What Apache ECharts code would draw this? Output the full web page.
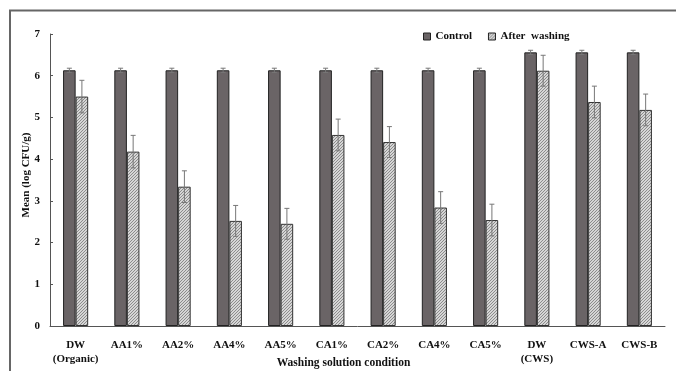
<!DOCTYPE html>
<html><head><meta charset="utf-8">
<script src="https://cdn.jsdelivr.net/npm/echarts@6/dist/echarts.min.js"></script>
<style>html,body{margin:0;padding:0;background:#fff}#c{width:676px;height:371px}</style>
</head><body><div id="c"></div>
<script>
var categories = ['DW\n(Organic)','AA1%','AA2%','AA4%','AA5%','CA1%','CA2%','CA4%','CA5%','DW\n(CWS)','CWS-A','CWS-B'];
var controlValues = [6.13,6.13,6.13,6.13,6.13,6.13,6.13,6.13,6.13,6.56,6.56,6.56];
var controlErrors = [0.05,0.05,0.05,0.05,0.05,0.05,0.05,0.05,0.05,0.05,0.05,0.05];
var afterValues = [5.50,4.18,3.34,2.52,2.45,4.58,4.41,2.84,2.54,6.12,5.37,5.18];
var afterErrors = [0.39,0.39,0.38,0.37,0.37,0.38,0.37,0.38,0.38,0.37,0.38,0.38];
var yTicks = [0,1,2,3,4,5,6,7];

var pc = document.createElement('canvas');
pc.width = 3; pc.height = 3;
var g = pc.getContext('2d');
g.fillStyle = '#d6d6d6'; g.fillRect(0,0,3,3);
g.fillStyle = '#8c8c8c';
g.fillRect(2,0,1,1); g.fillRect(1,1,1,1); g.fillRect(0,2,1,1);
var hatch = {image: pc, repeat: 'repeat'};

var font = '"Liberation Serif","Times New Roman",serif';
var chart = echarts.init(document.getElementById('c'));

function errSeries(vals, errs, seriesIdx) {
  var data = vals.map(function(v,i){ return [i, v - errs[i], v + errs[i]]; });
  return {
    type: 'custom', silent: true, z: 10,
    renderItem: function(params, api) {
      var i = api.value(0);
      var lo = api.coord([i, api.value(1)]);
      var hi = api.coord([i, api.value(2)]);
      var bw = api.size([1,0])[0];
      var bar = bw * 0.245;
      var x = lo[0] + (seriesIdx === 0 ? -bar/2 : bar/2);
      var c = 2.5;
      return {type:'group', children:[
        {type:'line', shape:{x1:x, y1:lo[1], x2:x, y2:hi[1]}, style:{stroke:'#777', lineWidth:1}},
        {type:'line', shape:{x1:x-c, y1:hi[1], x2:x+c, y2:hi[1]}, style:{stroke:'#777', lineWidth:1}},
        {type:'line', shape:{x1:x-c, y1:lo[1], x2:x+c, y2:lo[1]}, style:{stroke:'#777', lineWidth:1}}
      ]};
    },
    data: data
  };
}

chart.setOption({
  animation: false,
  backgroundColor: '#fff',
  grid: {left: 50, right: 11, top: 34, bottom: 45, containLabel: false, outerBoundsMode: 'none'},
  legend: {
    left: 418, top: 26, itemWidth: 7, itemHeight: 7, itemGap: 16,
    textStyle: {fontFamily: font, fontWeight: 'bold', fontSize: 11, color: '#111'},
    data: [
      {name: 'Control', icon: 'rect', itemStyle: {color: '#6a6466', borderColor: '#222', borderWidth: 1}},
      {name: 'After  washing', icon: 'rect', itemStyle: {color: hatch, borderColor: '#222', borderWidth: 1}}
    ]
  },
  graphic: [
    {type: 'polyline', shape: {points: [[10,371],[10,10.5],[676,10.5]]}, style: {stroke: '#666', lineWidth: 2, fill: null}}
  ],
  xAxis: {
    type: 'category', data: categories,
    name: 'Washing solution condition', nameLocation: 'middle', nameGap: 31, nameMoveOverlap: false,
    nameTextStyle: {fontFamily: font, fontWeight: 'bold', fontSize: 11.5, color: '#111', padding: [0, 28, 0, 0]},
    axisLine: {lineStyle: {color: '#555', width: 1}},
    axisTick: {inside: true, length: 3, lineStyle: {color: '#555'}},
    axisLabel: {fontFamily: font, fontWeight: 'bold', fontSize: 11, color: '#111', margin: 12, lineHeight: 14, interval: 0}
  },
  yAxis: {
    type: 'value', min: 0, max: 7, interval: 1,
    name: 'Mean (log CFU/g)', nameLocation: 'middle', nameGap: 18, nameRotate: 90, nameMoveOverlap: false,
    nameTextStyle: {fontFamily: font, fontWeight: 'bold', fontSize: 11, color: '#111', padding: [0, 0, 0, 10]},
    axisLine: {show: true, lineStyle: {color: '#555', width: 1}},
    axisTick: {show: true, inside: true, length: 3, lineStyle: {color: '#555'}},
    splitLine: {show: false},
    axisLabel: {fontFamily: font, fontWeight: 'bold', fontSize: 11, color: '#111', margin: 10,
      formatter: function(v){ return yTicks.indexOf(v) >= 0 ? String(v) : ''; }}
  },
  series: [
    {name: 'Control', type: 'bar', data: controlValues, barWidth: '24.5%', barGap: '0%',
      itemStyle: {color: '#6a6466', borderColor: '#222', borderWidth: 1}},
    {name: 'After  washing', type: 'bar', data: afterValues, barWidth: '24.5%', barGap: '0%',
      itemStyle: {color: hatch, borderColor: '#333', borderWidth: 1}},
    errSeries(controlValues, controlErrors, 0),
    errSeries(afterValues, afterErrors, 1)
  ]
});
</script></body></html>
